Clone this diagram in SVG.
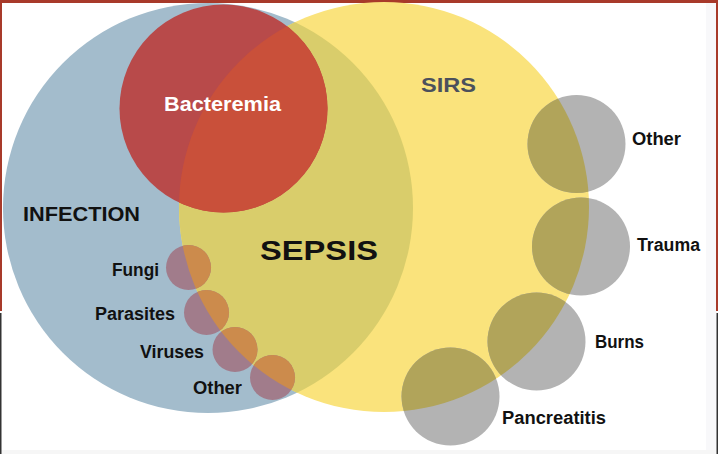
<svg xmlns="http://www.w3.org/2000/svg" width="718" height="454" viewBox="0 0 718 454">
  <style>
    .lbl { font-family: "Liberation Sans", Arial, sans-serif; font-weight: bold; fill: #111; }
    .sm { font-size: 17.5px; }
    .gray { fill: #b3b3b3; }
    .grayY { fill: #b1a45a; }
    .sub { fill: #a17c8b; }
    .subY { fill: #cc8b4c; }
  </style>
  <defs>
    <clipPath id="clipBlue"><circle cx="208" cy="208" r="205"/></clipPath>
    <clipPath id="clipYellow"><circle cx="384" cy="207" r="205"/></clipPath>
  </defs>
  <rect x="0" y="0" width="718" height="454" fill="#ffffff"/>
  <rect x="706" y="0" width="11" height="454" fill="#f8f8fa"/>
  <rect x="0" y="450" width="718" height="4" fill="#f6f6f6"/>
  <g id="frame">
    <rect x="0" y="0" width="718" height="3" fill="#a83a2a"/>
    <rect x="0" y="0" width="2" height="311" fill="#a83a2a"/>
    <rect x="716" y="0" width="2" height="311" fill="#a83a2a"/>
    <rect x="0" y="313" width="1.5" height="141" fill="#333333"/>
    <rect x="716.5" y="313" width="1.5" height="141" fill="#333333"/>
  </g>
  <g id="infection">
    <circle cx="208" cy="208" r="205" fill="#a3bccc"/>
  </g>
  <g id="sirs">
    <circle cx="384" cy="207" r="205" fill="#fae37c"/>
    <circle cx="384" cy="207" r="205" fill="#d9cd6b" clip-path="url(#clipBlue)"/>
  </g>
  <g id="bacteremia">
    <circle cx="223.5" cy="108.5" r="104" fill="#b84a4a"/>
    <circle cx="223.5" cy="108.5" r="104" fill="#c9503a" clip-path="url(#clipYellow)"/>
    <text class="lbl" x="222.5" y="110.5" font-size="20" style="fill:#ffffff" text-anchor="middle" textLength="117" lengthAdjust="spacingAndGlyphs">Bacteremia</text>
  </g>
  <g id="fungi">
    <circle class="sub" cx="188.5" cy="267.5" r="22.5"/>
    <circle class="subY" cx="188.5" cy="267.5" r="22.5" clip-path="url(#clipYellow)"/>
    <text class="lbl sm" x="112" y="276" textLength="47" lengthAdjust="spacingAndGlyphs">Fungi</text>
  </g>
  <g id="parasites">
    <circle class="sub" cx="206.5" cy="312.5" r="22.5"/>
    <circle class="subY" cx="206.5" cy="312.5" r="22.5" clip-path="url(#clipYellow)"/>
    <text class="lbl sm" x="95" y="319.5" textLength="80" lengthAdjust="spacingAndGlyphs">Parasites</text>
  </g>
  <g id="viruses">
    <circle class="sub" cx="235" cy="349.5" r="22.5"/>
    <circle class="subY" cx="235" cy="349.5" r="22.5" clip-path="url(#clipYellow)"/>
    <text class="lbl sm" x="140" y="358" textLength="64" lengthAdjust="spacingAndGlyphs">Viruses</text>
  </g>
  <g id="infection-other">
    <circle class="sub" cx="272.5" cy="377.5" r="22.5"/>
    <circle class="subY" cx="272.5" cy="377.5" r="22.5" clip-path="url(#clipYellow)"/>
    <text class="lbl sm" x="193" y="394" textLength="49" lengthAdjust="spacingAndGlyphs">Other</text>
  </g>
  <g id="sirs-other">
    <circle class="gray" cx="576.5" cy="144" r="49"/>
    <circle class="grayY" cx="576.5" cy="144" r="49" clip-path="url(#clipYellow)"/>
    <text class="lbl sm" x="632" y="145" textLength="49" lengthAdjust="spacingAndGlyphs">Other</text>
  </g>
  <g id="trauma">
    <circle class="gray" cx="581" cy="246.5" r="49"/>
    <circle class="grayY" cx="581" cy="246.5" r="49" clip-path="url(#clipYellow)"/>
    <text class="lbl sm" x="637" y="250.5" textLength="63" lengthAdjust="spacingAndGlyphs">Trauma</text>
  </g>
  <g id="burns">
    <circle class="gray" cx="536.5" cy="341.5" r="49"/>
    <circle class="grayY" cx="536.5" cy="341.5" r="49" clip-path="url(#clipYellow)"/>
    <text class="lbl sm" x="595" y="348" textLength="49" lengthAdjust="spacingAndGlyphs">Burns</text>
  </g>
  <g id="pancreatitis">
    <circle class="gray" cx="450.5" cy="396.5" r="49"/>
    <circle class="grayY" cx="450.5" cy="396.5" r="49" clip-path="url(#clipYellow)"/>
    <text class="lbl sm" x="502" y="424" textLength="104" lengthAdjust="spacingAndGlyphs">Pancreatitis</text>
  </g>
  <g id="labels">
    <text class="lbl" x="23" y="221" font-size="20" textLength="117" lengthAdjust="spacingAndGlyphs">INFECTION</text>
    <text class="lbl" x="260" y="259.5" font-size="28" textLength="118" lengthAdjust="spacingAndGlyphs">SEPSIS</text>
    <text class="lbl" x="421" y="92" font-size="21" style="fill:#4b505c" textLength="55" lengthAdjust="spacingAndGlyphs">SIRS</text>
  </g>
  <g id="connectors"></g>
</svg>
